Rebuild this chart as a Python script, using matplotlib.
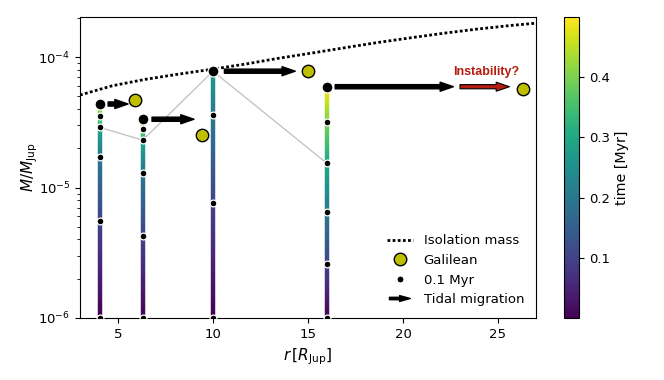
import numpy as np
import matplotlib
matplotlib.use('Agg')
import matplotlib.pyplot as plt
from matplotlib.collections import LineCollection
from matplotlib.colors import Normalize
from matplotlib.lines import Line2D
from matplotlib.patches import FancyArrowPatch
from matplotlib.legend_handler import HandlerBase

plt.rcParams['font.size'] = 9.5

# isolation mass curve
iso_r = [3.0, 4.7, 6.4, 8.2, 9.9, 11.7, 13.4, 15.2, 16.9, 18.7, 20.4, 22.2, 23.9, 25.7, 27.0]
iso_m = [5.12e-5, 6.03e-5, 6.74e-5, 7.41e-5, 8.05e-5, 8.84e-5, 9.77e-5, 1.074e-4,
         1.178e-4, 1.296e-4, 1.406e-4, 1.528e-4, 1.64e-4, 1.75e-4, 1.82e-4]

# growth tracks: radius, times [Myr] and masses [M_Jup]
col_r = [4.05, 6.3, 10.0, 16.0]
col_t = [[0.0, 0.1, 0.2, 0.3, 0.4, 0.43],
         [0.0, 0.1, 0.2, 0.3, 0.4, 0.45],
         [0.0, 0.1, 0.2, 0.28],
         [0.0, 0.1, 0.2, 0.3, 0.4, 0.499]]
col_m = [[1e-6, 5.53e-6, 1.72e-5, 2.89e-5, 3.55e-5, 4.37e-5],
         [1e-6, 4.28e-6, 1.30e-5, 2.31e-5, 2.79e-5, 3.34e-5],
         [1e-6, 7.66e-6, 3.61e-5, 7.8e-5],
         [1e-6, 2.58e-6, 6.49e-6, 1.53e-5, 3.19e-5, 5.93e-5]]

# snapshot at 0.3 Myr
snap_r = [4.05, 6.3, 10.0, 16.0]
snap_m = [2.89e-5, 2.31e-5, 7.8e-5, 1.53e-5]

# Galilean moons
gal_r = [5.9, 9.4, 15.0, 26.3]
gal_m = [4.70e-5, 2.53e-5, 7.80e-5, 5.67e-5]

# tidal migration arrows
mig_start = [4.48, 6.79, 10.6, 16.43]
mig_end = [5.53, 9.0, 14.33, 22.65]
inst_start, inst_end = 23.0, 25.6
inst_label_m = 7.28e-5

norm = Normalize(vmin=0.001, vmax=0.499)
cmap = plt.get_cmap('viridis')
red = '#b51d10'


def gradient_segments(r, t, m, n=20):
    # split each interval so the colour runs smoothly along the track
    segs, cols = [], []
    for i in range(len(t) - 1):
        lm = np.linspace(np.log10(m[i]), np.log10(m[i + 1]), n + 1)
        tt = np.linspace(t[i], t[i + 1], n + 1)
        for j in range(n):
            segs.append([(r, 10 ** lm[j]), (r, 10 ** lm[j + 1])])
            cols.append(0.5 * (tt[j] + tt[j + 1]))
    return segs, cols


class ArrowHandler(HandlerBase):
    def create_artists(self, legend, orig_handle, xdescent, ydescent,
                       width, height, fontsize, trans):
        y = height / 2 - ydescent
        arr = FancyArrowPatch((-xdescent, y), (width - xdescent, y),
                              arrowstyle='simple,head_width=0.6,head_length=1.1,tail_width=0.25',
                              mutation_scale=7, fc='k', ec='k', transform=trans)
        return [arr]


fig = plt.figure(figsize=(6.64, 3.8), dpi=100)
ax = fig.add_axes([80 / 664, 62 / 380, 456 / 664, 301 / 380])
cax = fig.add_axes([564 / 664, 62 / 380, 15 / 664, 301 / 380])

ax.plot(iso_r, iso_m, color='k', lw=2, linestyle=(0, (1, 0.85)), zorder=2)
ax.plot(snap_r, snap_m, color='#c4c4c4', lw=1, zorder=1)

segs, cols = [], []
for r, t, m in zip(col_r, col_t, col_m):
    s, c = gradient_segments(r, t, m)
    segs += s
    cols += c
lc = LineCollection(segs, cmap=cmap, norm=norm, linewidths=3.2, capstyle='butt', zorder=2)
lc.set_array(np.array(cols))
ax.add_collection(lc)

for r, t, m in zip(col_r, col_t, col_m):
    ax.scatter([r] * (len(m) - 1), m[:-1], s=24, c='k', edgecolors='w', linewidths=0.9, zorder=3)
    ax.scatter([r], [m[-1]], s=62, c='k', edgecolors='w', linewidths=0.9, zorder=4)

ax.scatter(gal_r, gal_m, s=80, c=[(0.75, 0.75, 0.0)], edgecolors='k', linewidths=1.0, zorder=4)

arrowstyle = 'simple,head_width=0.65,head_length=0.95,tail_width=0.3'
for x0, x1, m in zip(mig_start, mig_end, col_m):
    ax.annotate('', xy=(x1, m[-1]), xytext=(x0, m[-1]),
                arrowprops=dict(arrowstyle=arrowstyle, fc='k', ec='k', shrinkA=0, shrinkB=0,
                                mutation_scale=10),
                zorder=5)
ax.annotate('', xy=(inst_end, col_m[3][-1]), xytext=(inst_start, col_m[3][-1]),
            arrowprops=dict(arrowstyle=arrowstyle, fc=red, ec='k', lw=0.8, shrinkA=0, shrinkB=0,
                            mutation_scale=10),
            zorder=5)
ax.text(0.5 * (inst_start + inst_end) + 0.1, inst_label_m, 'Instability?', color=red,
        fontsize=9, fontweight='bold', family='Liberation Sans', ha='center', va='baseline')

ax.set_yscale('log')
ax.set_xlim(3, 27)
ax.set_ylim(1e-6, 2.03e-4)
ax.set_xlabel(r'$r\,[R_{\rm Jup}]$', fontsize=11)
ax.set_ylabel(r'$M/M_{\rm Jup}$', fontsize=11, labelpad=-1)

handles = [
    Line2D([], [], color='k', lw=2, linestyle=(0, (1, 0.85))),
    Line2D([], [], ls='none', marker='o', ms=9, mfc=(0.75, 0.75, 0.0), mec='k', mew=1.0),
    Line2D([], [], ls='none', marker='o', ms=5, mfc='k', mec='w', mew=0.8),
    FancyArrowPatch((0, 0), (1, 0)),
]
labels = ['Isolation mass', 'Galilean', '0.1 Myr', 'Tidal migration']
ax.legend(handles, labels, loc='lower right', frameon=False,
          handler_map={FancyArrowPatch: ArrowHandler()})

cb = fig.colorbar(lc, cax=cax)
cb.set_label('time [Myr]', fontsize=10.3)

fig.savefig('out.png', dpi=100)
